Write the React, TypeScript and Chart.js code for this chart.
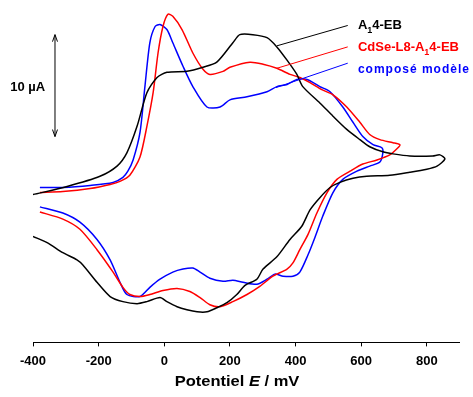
import { useEffect, useRef } from 'react';
import { Chart, registerables } from 'chart.js';

Chart.register(...registerables);

// Potential axis ticks (mV)
const POTENTIAL_TICKS = [-400, -200, 0, 200, 400, 600, 800];

// A14-EB (black) : potential (mV) / current (µA, relative)
const BLACK_E = [-400, -296, -196, -144, -114, -83, -53, -22, 8, 69, 118, 160, 209, 230, 270, 313, 343, 374, 404, 422, 474, 514, 556, 596, 626, 666, 697, 748, 818, 840, 855, 831, 800, 748, 687, 617, 575, 535, 505, 474, 444, 419, 383, 343, 301, 282, 246, 221, 191, 160, 130, 100, 69, 39, 8, -13, -53, -83, -126, -165, -205, -248, -266, -309, -357, -400];
const BLACK_I = [14.5, 15.3, 16.3, 17.3, 18.6, 21.2, 24.5, 26.0, 26.5, 26.6, 27.0, 27.5, 29.4, 30.2, 30.2, 29.9, 29.0, 27.7, 26.3, 25.1, 23.5, 22.2, 20.9, 19.9, 19.2, 18.7, 18.5, 18.3, 18.3, 18.4, 18.0, 17.3, 17.0, 16.7, 16.4, 16.3, 16.1, 15.7, 15.2, 14.2, 13.0, 11.4, 10.1, 8.4, 7.2, 6.2, 5.6, 4.7, 3.9, 3.4, 3.0, 3.0, 3.2, 3.5, 4.0, 4.4, 4.0, 3.8, 4.0, 4.5, 5.9, 7.6, 8.1, 8.8, 9.8, 10.4];

// CdSe-L8-A14-EB (red)
const RED_E = [-379, -309, -226, -165, -135, -105, -74, -53, -34, -19, -4, 11, 26, 54, 87, 118, 139, 179, 200, 261, 301, 343, 383, 413, 444, 480, 514, 556, 596, 626, 657, 697, 718, 712, 687, 648, 605, 566, 526, 496, 465, 438, 413, 392, 374, 331, 291, 252, 209, 170, 139, 109, 78, 39, -4, -44, -74, -105, -126, -156, -205, -257, -309, -379];
const RED_I = [14.7, 14.8, 15.1, 15.5, 15.8, 16.4, 18.2, 21.2, 24.5, 28.4, 31.0, 32.2, 32.0, 30.7, 28.4, 26.8, 26.3, 26.6, 27.0, 27.5, 27.3, 26.9, 26.3, 26.0, 25.5, 24.8, 24.3, 23.1, 21.6, 20.4, 19.9, 19.6, 19.4, 19.1, 18.4, 17.9, 17.5, 16.8, 16.0, 14.7, 12.7, 10.6, 9.1, 7.8, 7.2, 6.5, 5.5, 4.7, 4.0, 3.5, 3.7, 4.4, 5.0, 5.3, 5.1, 4.7, 4.5, 4.7, 5.4, 6.9, 9.1, 11.1, 12.1, 12.8];

// composé modèle (blue)
const BLUE_E = [-379, -309, -226, -156, -126, -111, -95, -74, -59, -44, -28, -13, 8, 26, 57, 87, 130, 170, 200, 252, 313, 343, 374, 404, 435, 474, 505, 544, 575, 605, 636, 663, 666, 657, 626, 587, 544, 514, 483, 459, 438, 413, 392, 362, 337, 313, 282, 240, 209, 179, 139, 109, 87, 57, 26, -13, -44, -74, -114, -135, -165, -205, -257, -309, -379];
const BLUE_I = [15.2, 15.2, 15.4, 15.7, 16.2, 16.8, 17.9, 20.6, 25.1, 29.4, 31.0, 31.2, 30.7, 29.4, 27.1, 25.1, 23.1, 23.1, 23.8, 24.1, 24.6, 25.1, 25.3, 25.8, 25.8, 25.1, 24.6, 23.1, 21.6, 20.2, 19.4, 19.1, 18.6, 17.7, 17.3, 16.8, 16.0, 14.7, 12.4, 10.3, 8.6, 6.9, 6.5, 6.5, 6.7, 6.2, 5.7, 5.9, 6.1, 6.0, 6.3, 6.9, 7.3, 7.2, 6.9, 6.2, 5.4, 4.5, 4.7, 5.9, 8.1, 10.1, 11.8, 12.7, 13.3];

// Legend labels (odd parts are subscripts)
const LABEL_PARTS = [['A', '1', '4-EB'], ['CdSe-L8-A', '1', '4-EB'], ['composé modèle']];
const SERIES_COLORS = ['#000000', '#ff0000', '#0000ff'];
const LEADER_START_E = [343, 343, 340];
const LEADER_START_I = [29.1, 26.9, 25.0];
const LEADER_END_E = 559;
const LEADER_END_I = [31.1, 29.0, 27.4];
const LABEL_E = 590;
const LABEL_I = [30.8, 28.6, 26.4];

// Scale bar: 10 µA
const SCALE_BAR_E = -333;
const SCALE_BAR_I = [20.2, 30.2];
const SCALE_LABEL = '10 µA';
const SCALE_LABEL_E = -363;
const SCALE_LABEL_I = 24.7;

const FONT = 'Arial, "Liberation Sans", sans-serif';

const toPoints = (xs: number[], ys: number[]) => xs.map((v, i) => ({ x: v, y: ys[i] }));

const annotationPlugin = {
  id: 'cvAnnotations',
  afterDraw(chart: any) {
    const { ctx, scales } = chart;
    const x = scales.x;
    const y = scales.y;
    ctx.save();

    // leader lines + labels
    LABEL_PARTS.forEach((parts, i) => {
      ctx.strokeStyle = SERIES_COLORS[i];
      ctx.lineWidth = 1;
      ctx.beginPath();
      ctx.moveTo(x.getPixelForValue(LEADER_START_E[i]), y.getPixelForValue(LEADER_START_I[i]));
      ctx.lineTo(x.getPixelForValue(LEADER_END_E), y.getPixelForValue(LEADER_END_I[i]));
      ctx.stroke();

      let px = x.getPixelForValue(LABEL_E);
      const py = y.getPixelForValue(LABEL_I[i]);
      ctx.fillStyle = SERIES_COLORS[i];
      ctx.textBaseline = 'alphabetic';
      ctx.textAlign = 'left';
      const spaced = parts.length === 1;
      (ctx as any).letterSpacing = spaced ? '1px' : '0px';
      parts.forEach((p, k) => {
        const sub = k % 2 === 1;
        ctx.font = `bold ${sub ? 9 : spaced ? 12 : 13}px ${FONT}`;
        ctx.fillText(p, px, py + (sub ? 4 : 0));
        px += ctx.measureText(p).width;
      });
      (ctx as any).letterSpacing = '0px';
    });

    // scale bar with double arrow
    const bx = x.getPixelForValue(SCALE_BAR_E);
    const by0 = y.getPixelForValue(SCALE_BAR_I[1]);
    const by1 = y.getPixelForValue(SCALE_BAR_I[0]);
    ctx.strokeStyle = '#000';
    ctx.lineWidth = 1;
    ctx.beginPath();
    ctx.moveTo(bx, by0);
    ctx.lineTo(bx, by1);
    ctx.moveTo(bx - 2.5, by0 + 7);
    ctx.lineTo(bx, by0);
    ctx.lineTo(bx + 2.5, by0 + 7);
    ctx.moveTo(bx - 2.5, by1 - 7);
    ctx.lineTo(bx, by1);
    ctx.lineTo(bx + 2.5, by1 - 7);
    ctx.stroke();
    ctx.fillStyle = '#000';
    ctx.font = `bold 13px ${FONT}`;
    ctx.textAlign = 'right';
    ctx.fillText(SCALE_LABEL, x.getPixelForValue(SCALE_LABEL_E), y.getPixelForValue(SCALE_LABEL_I));

    // axis title: Potentiel E / mV
    const titleParts: [string, string][] = [
      ['Potentiel ', 'bold'],
      ['E', 'italic bold'],
      [' / mV', 'bold'],
    ];
    const sx = 1.1;
    let total = 0;
    titleParts.forEach(([t, st]) => {
      ctx.font = `${st} 15px ${FONT}`;
      total += ctx.measureText(t).width;
    });
    const cx = (chart.chartArea.left + chart.chartArea.right) / 2 - 9;
    const ty = chart.chartArea.bottom + 44;
    ctx.translate(cx, ty);
    ctx.scale(sx, 1);
    let tx = -total / 2;
    ctx.textAlign = 'left';
    titleParts.forEach(([t, st]) => {
      ctx.font = `${st} 15px ${FONT}`;
      ctx.fillText(t, tx, 0);
      tx += ctx.measureText(t).width;
    });
    ctx.restore();
  },
};

export default function App() {
  const ref = useRef<HTMLCanvasElement | null>(null);

  useEffect(() => {
    if (!ref.current) return;
    const mk = (xs: number[], ys: number[], color: string) => ({
      data: toPoints(xs, ys),
      borderColor: color,
      backgroundColor: color,
      borderWidth: 1.5,
      showLine: true,
      pointRadius: 0,
      tension: 0.25,
      fill: false,
    });
    const chart = new Chart(ref.current, {
      type: 'scatter',
      data: {
        datasets: [
          mk(BLACK_E, BLACK_I, SERIES_COLORS[0]),
          mk(RED_E, RED_I, SERIES_COLORS[1]),
          mk(BLUE_E, BLUE_I, SERIES_COLORS[2]),
        ] as any,
      },
      options: {
        animation: false,
        responsive: false,
        layout: { padding: { left: 33, right: 14, top: 0, bottom: 21 } },
        plugins: { legend: { display: false }, tooltip: { enabled: false } },
        scales: {
          x: {
            type: 'linear',
            min: -400,
            max: 898,
            afterBuildTicks: (s: any) => {
              s.ticks = POTENTIAL_TICKS.map((v) => ({ value: v }));
            },
            grid: { display: true, drawOnChartArea: false, drawTicks: true, tickLength: 4, color: '#000', lineWidth: 1 },
            border: { display: true, color: '#000', width: 1 },
            ticks: {
              color: '#000',
              font: { family: FONT, size: 13, weight: 'bold' },
              padding: 7,
              maxRotation: 0,
              autoSkip: false,
            },
          },
          y: { display: false, min: 0, max: 33.6 },
        },
      } as any,
      plugins: [annotationPlugin],
    });
    return () => chart.destroy();
  }, []);

  return (
    <div style={{ position: 'fixed', left: 0, top: 0, width: 473, height: 397, background: '#fff' }}>
      <canvas ref={ref} width={473} height={397} />
    </div>
  );
}
